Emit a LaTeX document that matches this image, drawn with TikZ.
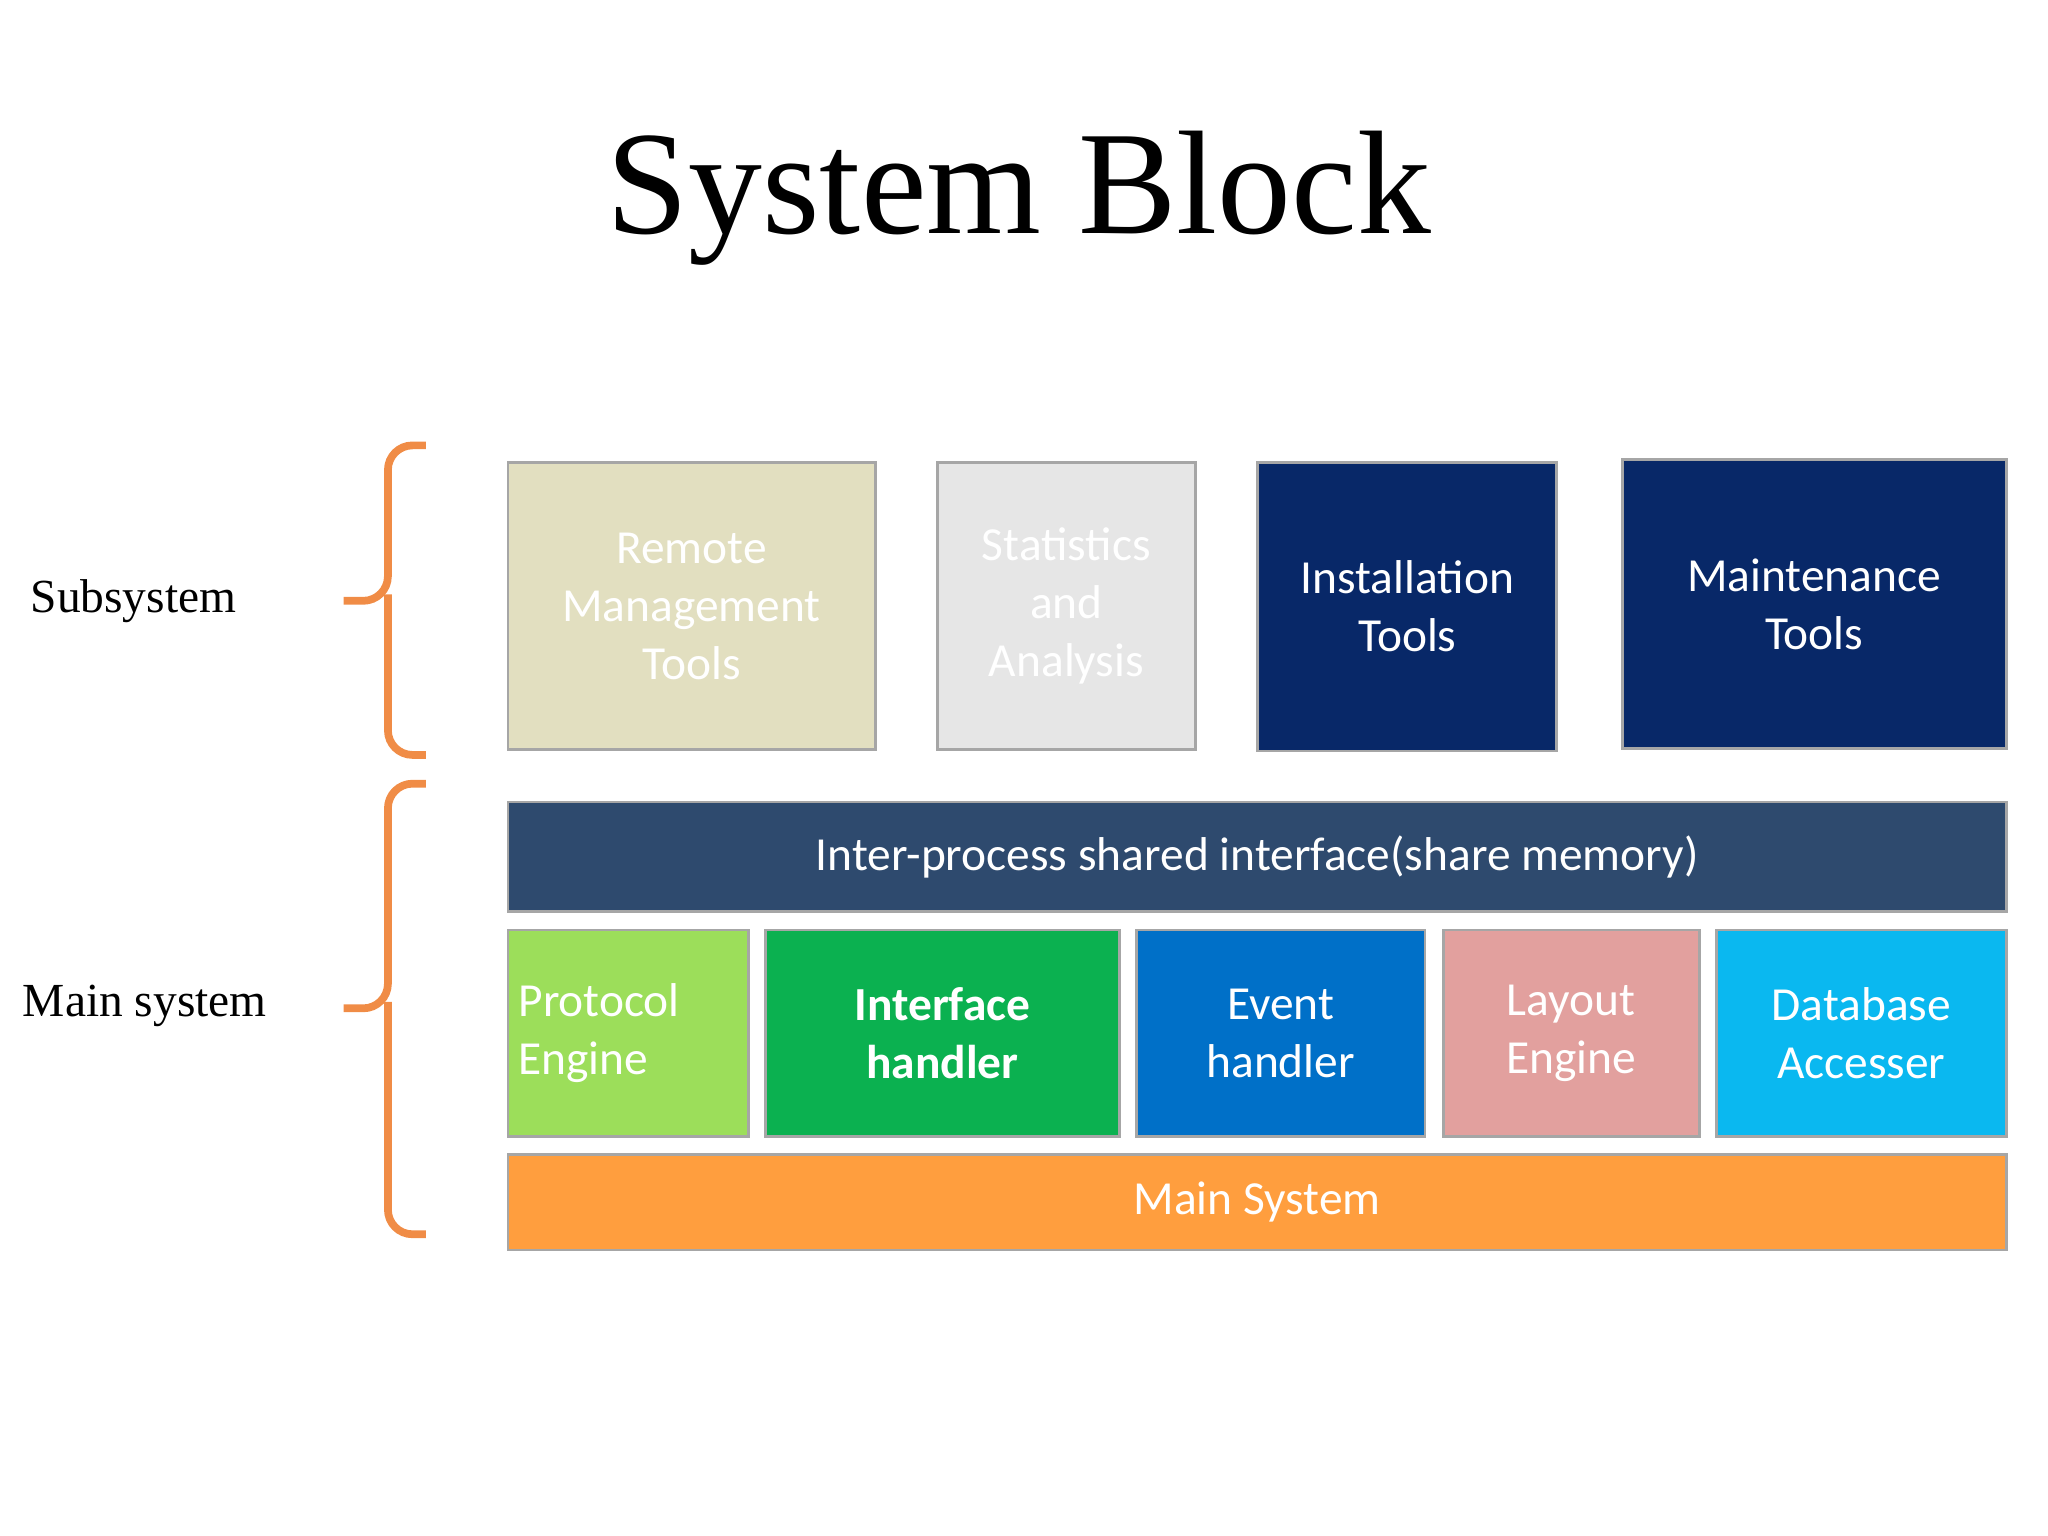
\documentclass[tikz,border=0pt]{standalone}
\usepackage{fontspec}
\setmainfont{Liberation Serif}
\newfontfamily\boxfont{Carlito}
\newcommand\px[1]{#1*0.01306cm}
\begin{document}
\begin{tikzpicture}[x=0.01306cm,y=-0.01306cm,
  blk/.style={draw=black!35, line width=0.8pt, inner sep=0pt, align=center,
    font=\boxfont\fontsize{13.5pt}{16.5pt}\selectfont, text=white},
  lbl/.style={font=\fontsize{13.5pt}{16pt}\selectfont, anchor=west},
  brc/.style={draw={rgb,255:red,240;green,140;blue,70}, line width=2.2pt, rounded corners=7pt}]
\useasboundingbox (0,0) rectangle (1568,1176);
\node (title) at (780,152) {\fontsize{42pt}{48pt}\selectfont System Block};
% subsystem row
\node[blk, fill={rgb,255:red,226;green,223;blue,192}, minimum width=\px{281}, minimum height=\px{220}] (rmt) at (529.5,464) {Remote\\Management\\Tools};
\node[blk, fill={rgb,255:red,230;green,230;blue,230}, minimum width=\px{197}, minimum height=\px{220}] (sta) at (816.5,464) {Statistics\\and\\Analysis};
\node[blk, fill={rgb,255:red,8;green,40;blue,104}, minimum width=\px{229}, minimum height=\px{221}] (ins) at (1077.5,464.5) {Installation\\Tools};
\node[blk, fill={rgb,255:red,8;green,40;blue,104}, minimum width=\px{294}, minimum height=\px{221}] (mnt) at (1389,462.5) {Maintenance\\Tools};
% main system rows
\node[blk, fill={rgb,255:red,46;green,74;blue,110}, minimum width=\px{1147}, minimum height=\px{84}] (ipc) at (962.5,656) {Inter-process shared interface(share memory)};
\node[blk, fill={rgb,255:red,156;green,222;blue,90}, minimum width=\px{184}, minimum height=\px{158}, align=left, text width=\px{168}] (pro) at (481,791) {Protocol\\Engine};
\node[blk, fill={rgb,255:red,11;green,177;blue,80}, minimum width=\px{271}, minimum height=\px{158}, font=\boxfont\bfseries\fontsize{13.5pt}{16.5pt}\selectfont] (ifh) at (721.5,791) {Interface\\handler};
\node[blk, fill={rgb,255:red,0;green,112;blue,200}, minimum width=\px{221}, minimum height=\px{158}] (evt) at (980.5,791) {Event\\handler};
\node[blk, fill={rgb,255:red,226;green,160;blue,158}, minimum width=\px{196}, minimum height=\px{158}] (lay) at (1203,791) {Layout\\Engine};
\node[blk, fill={rgb,255:red,10;green,184;blue,240}, minimum width=\px{222}, minimum height=\px{158}] (dba) at (1425,791) {Database\\Accesser};
\node[blk, fill={rgb,255:red,255;green,158;blue,62}, minimum width=\px{1147}, minimum height=\px{73}] (mss) at (962.5,920.5) {Main System};
% labels and braces
\node[lbl] (sub) at (14,460) {Subsystem};
\node[lbl] (msy) at (8,770) {Main system};
\draw[brc] (326,341) -- (297,341) -- (297,460) -- (263,460);
\draw[brc] (297,455) -- (297,578) -- (326,578);
\draw[brc] (326,600) -- (297,600) -- (297,772) -- (263,772);
\draw[brc] (297,767) -- (297,945) -- (326,945);
\end{tikzpicture}
\end{document}
